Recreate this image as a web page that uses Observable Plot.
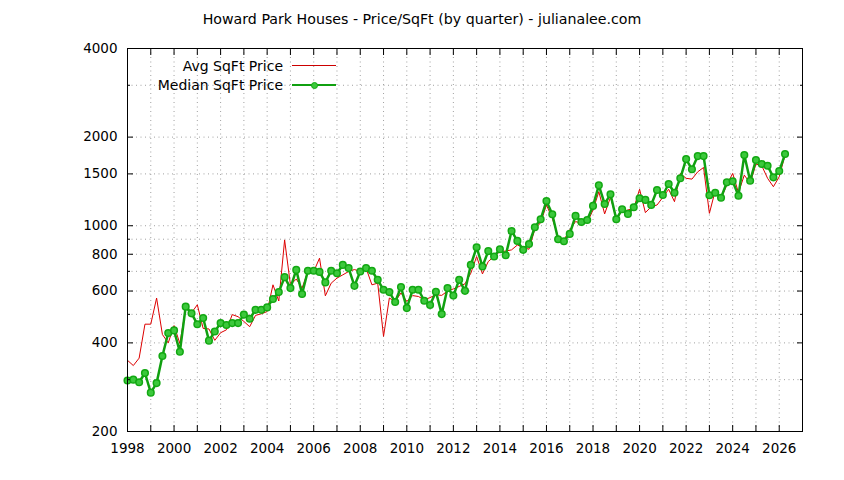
<!DOCTYPE html>
<html>
<head>
<meta charset="utf-8">
<script src="https://cdn.jsdelivr.net/npm/d3@7"></script>
<script src="https://cdn.jsdelivr.net/npm/@observablehq/plot@0.6"></script>
<style>
  body { margin: 0; background: #fff; }
  #wrap { position: relative; width: 844px; height: 480px; font-family: "DejaVu Sans", sans-serif; color: #000; background: #fff; }
  #title { height: 30px; box-sizing: border-box; padding-top: 12px; text-align: center; font-size: 14.2px; line-height: 14px; }
  .lg-text { position: absolute; left: 0; width: 283px; text-align: right; font-size: 14px; line-height: 16px; }
  .lg-line { position: absolute; left: 292px; width: 44px; }
  .lg-dot { position: absolute; box-sizing: border-box; border-radius: 50%; }
</style>
</head>
<body>
<div id="wrap">
  <div id="title">Howard Park Houses - Price/SqFt (by quarter) - julianalee.com</div>
  <div id="chart"></div>
  <div class="lg-text" style="top:58px;">Avg SqFt Price</div>
  <div class="lg-line" style="top:65px;height:1px;background:#cc0000;"></div>
  <div class="lg-text" style="top:77px;">Median SqFt Price</div>
  <div class="lg-line" style="top:83.5px;height:2.5px;background:#10a010;"></div>
  <div class="lg-dot" style="left:310.5px;top:81.5px;width:7px;height:7px;background:#3cc83c;border:1.5px solid #12a812;"></div>
</div>
<script>
// Quarterly series, first quarter = 1998 Q1
const startYear = 1998;
const medianPrice = [
  298, 300, 294, 316, 271, 292, 361, 432, 441, 373,
  531, 504, 463, 486, 407, 437, 467, 460, 467, 467,
  499, 483, 518, 518, 528, 564, 595, 669, 614, 708,
  586, 703, 703, 697, 642, 703, 690, 736, 718, 625,
  699, 718, 703, 655, 606, 595, 551, 619, 525, 606,
  606, 556, 538, 597, 501, 614, 579, 655, 601, 736,
  845, 727, 820, 786, 832, 794, 960, 888, 828, 867,
  988, 1052, 1214, 1094, 900, 886, 938, 1080, 1030, 1046,
  1168, 1372, 1186, 1279, 1052, 1138, 1097, 1156, 1240, 1224,
  1177, 1322, 1272, 1386, 1295, 1449, 1684, 1555, 1724, 1724,
  1269, 1295, 1245, 1404, 1416, 1265, 1738, 1422, 1672, 1620,
  1598, 1460, 1534, 1752
];
const avgPrice = [
  349, 335, 355, 463, 463, 568, 427, 400, 458, 398,
  525, 506, 539, 448, 446, 408, 433, 443, 499, 491,
  473, 454, 496, 502, 511, 630, 555, 895, 630, 659,
  614, 699, 699, 776, 578, 638, 664, 681, 699, 710,
  699, 718, 630, 638, 421, 568, 553, 591, 553, 579,
  575, 560, 570, 583, 580, 600, 610, 622, 635, 690,
  786, 686, 756, 786, 817, 820, 828, 860, 845, 832,
  973, 1025, 1176, 1060, 918, 895, 968, 1033, 1020, 1025,
  1131, 1305, 1097, 1249, 1060, 1116, 1131, 1146, 1330, 1108,
  1160, 1176, 1249, 1330, 1207, 1506, 1449, 1440, 1525, 1577,
  1102, 1316, 1239, 1376, 1506, 1295, 1486, 1394, 1620, 1598,
  1449, 1357, 1467, 1738
];
const xLabelYears = [1998, 2000, 2002, 2004, 2006, 2008, 2010, 2012, 2014, 2016, 2018, 2020, 2022, 2024, 2026];
const xTickYears = [1999, 2000, 2001, 2002, 2003, 2004, 2005, 2006, 2007, 2008, 2009, 2010, 2011, 2012,
  2013, 2014, 2015, 2016, 2017, 2018, 2019, 2020, 2021, 2022, 2023, 2024, 2025, 2026];
const yLabelTicks = [200, 400, 600, 800, 1000, 1500, 2000, 4000];
const yMinorTicks = [300, 500, 700, 900, 3000];
const yGridValues = [300, 400, 500, 600, 700, 800, 900, 1000, 1500, 2000, 3000];

const data = medianPrice.map((m, i) => ({
  date: startYear + i * 0.25,
  median: m,
  avg: avgPrice[i]
}));

const gridStyle = {stroke: "#a0a0a0", strokeOpacity: 1, strokeWidth: 1, strokeDasharray: "1,3.5"};
const blank = () => "";

const chart = Plot.plot({
  width: 844,
  height: 450,
  marginLeft: 127,
  marginRight: 42,
  marginTop: 18,
  marginBottom: 49,
  style: {fontFamily: "DejaVu Sans, sans-serif", fontSize: "13.5px", background: "white", color: "black"},
  x: {domain: [1998, 2027]},
  y: {type: "log", domain: [200, 4000]},
  marks: [
    Plot.gridX(xTickYears, gridStyle),
    Plot.gridY(yGridValues, gridStyle),
    Plot.line(data, {x: "date", y: "avg", stroke: "#dd0000", strokeWidth: 1}),
    Plot.line(data, {x: "date", y: "median", stroke: "#10a010", strokeWidth: 2.5}),
    Plot.dot(data, {x: "date", y: "median", r: 3.3, fill: "#3cc83c", stroke: "#12a812", strokeWidth: 1.5}),
    Plot.frame({stroke: "black", strokeWidth: 1}),
    Plot.axisX(xTickYears, {anchor: "bottom", tickSize: -6, tickFormat: blank, label: null}),
    Plot.axisX(xTickYears, {anchor: "top", tickSize: -6, tickFormat: blank, label: null}),
    Plot.axisX(xLabelYears, {anchor: "bottom", tickSize: 0, tickPadding: 12, tickFormat: d => String(d), label: null}),
    Plot.axisY(yLabelTicks, {anchor: "left", tickSize: -6, tickFormat: blank, label: null}),
    Plot.axisY(yMinorTicks, {anchor: "left", tickSize: -3, tickFormat: blank, label: null}),
    Plot.axisY(yLabelTicks, {anchor: "right", tickSize: -6, tickFormat: blank, label: null}),
    Plot.axisY(yMinorTicks, {anchor: "right", tickSize: -3, tickFormat: blank, label: null}),
    Plot.axisY(yLabelTicks, {anchor: "left", tickSize: 0, tickPadding: 10, tickFormat: d => String(d), label: null})
  ]
});
document.getElementById("chart").appendChild(chart);
</script>
</body>
</html>
